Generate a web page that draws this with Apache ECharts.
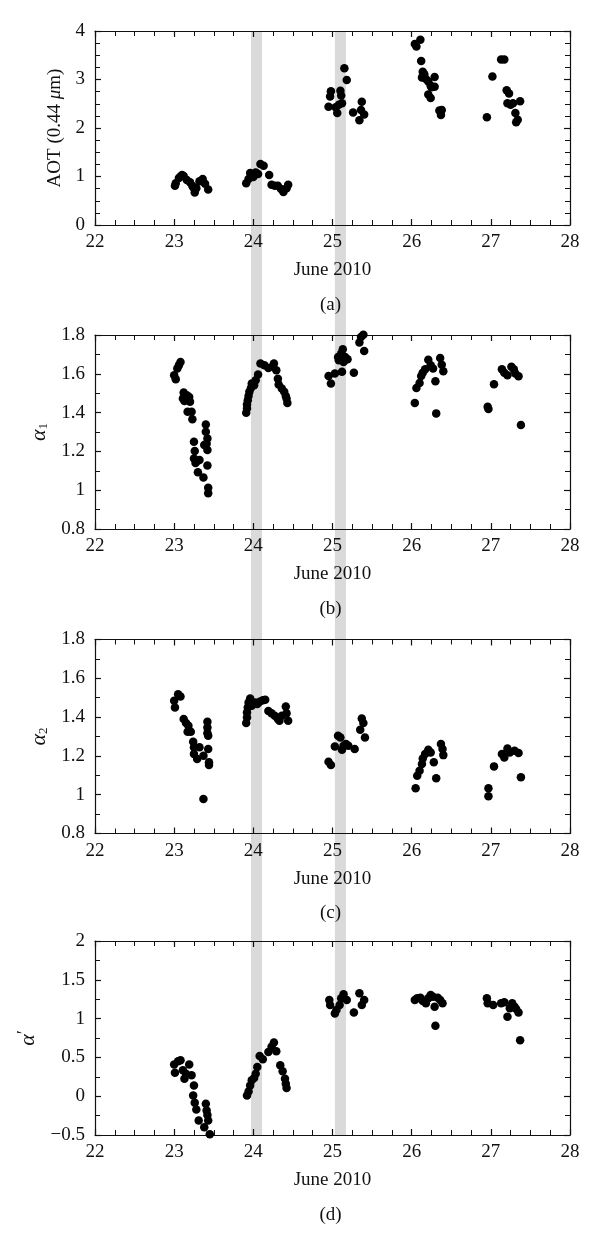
<!DOCTYPE html>
<html><head><meta charset="utf-8">
<script src="https://cdn.jsdelivr.net/npm/echarts@6/dist/echarts.min.js"></script>
<style>html,body{margin:0;padding:0;background:#fff}#c{width:600px;height:1247px}</style>
</head><body><div id="c"></div>
<script>
// ---- Data (day of June 2010, value) ----
const aotDay = [
  23.01,23.02,23.06,23.08,23.10,23.12,23.16,23.20,23.23,23.24,23.26,23.28,23.32,23.36,23.39,23.43,
  23.91,23.94,23.96,24.00,24.03,24.06,24.09,24.13,24.20,24.23,24.27,24.31,24.35,24.38,24.42,24.44,
  24.95,24.97,24.98,25.04,25.06,25.08,25.10,25.11,25.12,25.15,25.18,25.26,25.34,25.36,25.37,25.40,
  26.04,26.06,26.11,26.12,26.13,26.14,26.16,26.18,26.21,26.21,26.24,26.24,26.25,26.29,26.29,26.35,26.37,26.38,
  26.95,27.02,27.13,27.17,27.20,27.21,27.23,27.25,27.28,27.31,27.32,27.34,27.37
];
const aotVal = [
  0.81,0.86,0.97,1.00,1.03,1.01,0.93,0.88,0.81,0.78,0.67,0.76,0.90,0.95,0.85,0.73,
  0.86,0.95,1.07,0.99,1.08,1.05,1.26,1.22,1.03,0.83,0.81,0.81,0.74,0.68,0.76,0.83,
  2.44,2.65,2.76,2.43,2.31,2.48,2.77,2.67,2.51,3.23,2.99,2.32,2.16,2.37,2.54,2.28,
  3.73,3.68,3.82,3.38,3.04,3.16,3.11,3.01,2.96,2.69,2.87,2.62,2.84,3.05,2.85,2.36,2.27,2.37,
  2.22,3.06,3.41,3.41,2.78,2.51,2.71,2.48,2.51,2.31,2.12,2.17,2.55
];
const a1Day = [
  23.00,23.02,23.04,23.06,23.08,23.11,23.12,23.13,23.14,23.16,23.19,23.20,23.17,23.22,23.23,23.25,23.26,23.25,23.27,23.29,23.32,23.30,23.37,23.40,23.40,23.41,23.42,23.38,23.42,23.42,23.43,23.43,
  23.91,23.92,23.92,23.93,23.94,23.95,23.97,23.98,24.01,24.03,24.06,24.09,24.14,24.19,24.24,24.26,24.29,24.31,24.32,24.36,24.39,24.41,24.42,24.43,
  24.95,24.98,25.03,25.07,25.08,25.11,25.13,25.14,25.12,25.16,25.19,25.27,25.34,25.36,25.39,25.40,
  26.04,26.06,26.10,26.12,26.14,26.17,26.21,26.24,26.27,26.30,26.31,26.36,26.38,26.40,
  26.96,26.97,27.04,27.14,27.17,27.21,27.26,27.29,27.31,27.35,27.38
];
const a1Val = [
  1.593,1.572,1.627,1.644,1.661,1.473,1.503,1.460,1.481,1.490,1.481,1.456,1.404,1.404,1.366,1.250,1.202,1.164,1.140,1.151,1.156,1.092,1.065,1.339,1.301,1.240,1.267,1.233,1.207,1.127,1.013,0.984,
  1.399,1.421,1.442,1.464,1.486,1.507,1.527,1.550,1.541,1.567,1.596,1.653,1.644,1.630,1.636,1.653,1.618,1.575,1.545,1.524,1.507,1.486,1.473,1.450,
  1.589,1.550,1.601,1.687,1.670,1.704,1.726,1.661,1.610,1.687,1.675,1.606,1.761,1.790,1.801,1.718,
  1.450,1.527,1.553,1.589,1.606,1.623,1.673,1.644,1.627,1.562,1.396,1.681,1.647,1.613,
  1.430,1.418,1.546,1.623,1.606,1.593,1.636,1.623,1.601,1.587,1.336
];
const a2Day = [
  23.00,23.01,23.05,23.08,23.12,23.15,23.18,23.17,23.21,23.24,23.25,23.25,23.29,23.32,23.37,23.37,23.42,23.42,23.42,23.43,23.43,23.44,23.44,
  23.91,23.92,23.92,23.93,23.94,23.96,23.98,24.02,24.05,24.08,24.12,24.15,24.19,24.23,24.27,24.31,24.33,24.36,24.41,24.42,24.44,
  24.95,24.98,25.03,25.07,25.10,25.12,25.14,25.17,25.20,25.28,25.35,25.37,25.39,25.41,
  26.05,26.07,26.10,26.13,26.14,26.17,26.21,26.24,26.28,26.31,26.37,26.39,26.40,
  26.97,26.97,27.04,27.14,27.17,27.21,27.24,27.30,27.35,27.38
];
const a2Val = [
  1.484,1.450,1.518,1.506,1.390,1.369,1.355,1.324,1.324,1.273,1.244,1.210,1.184,1.244,1.201,0.978,1.376,1.347,1.317,1.304,1.235,1.167,1.153,
  1.369,1.398,1.424,1.450,1.475,1.496,1.458,1.475,1.467,1.479,1.487,1.489,1.432,1.420,1.407,1.390,1.381,1.407,1.455,1.420,1.381,
  1.170,1.153,1.249,1.304,1.295,1.232,1.252,1.261,1.252,1.235,1.335,1.393,1.369,1.295,
  1.033,1.098,1.124,1.158,1.187,1.210,1.232,1.218,1.167,1.085,1.261,1.235,1.204,
  1.033,0.992,1.146,1.210,1.192,1.238,1.218,1.227,1.215,1.090
];
const apDay = [
  23.00,23.01,23.05,23.08,23.11,23.13,23.15,23.19,23.22,23.25,23.24,23.26,23.28,23.31,23.40,23.41,23.42,23.43,23.38,23.45,
  23.92,23.94,23.96,23.98,24.01,24.03,24.05,24.08,24.12,24.19,24.23,24.26,24.29,24.34,24.37,24.40,24.41,24.42,
  24.96,24.97,25.03,25.05,25.09,25.11,25.14,25.18,25.27,25.34,25.37,25.40,
  26.04,26.07,26.11,26.14,26.18,26.21,26.24,26.27,26.29,26.30,26.33,26.36,26.39,
  26.95,26.96,27.03,27.13,27.17,27.21,27.24,27.27,27.30,27.32,27.35,27.37
];
const apVal = [
  0.407,0.303,0.450,0.463,0.333,0.225,0.290,0.407,0.269,0.139,0.010,-0.085,-0.172,-0.314,-0.098,-0.185,-0.241,-0.314,-0.400,-0.490,
  0.010,0.061,0.139,0.204,0.234,0.290,0.377,0.519,0.476,0.571,0.636,0.692,0.579,0.398,0.320,0.225,0.161,0.105,
  1.240,1.175,1.067,1.111,1.175,1.262,1.313,1.240,1.080,1.326,1.175,1.240,
  1.240,1.262,1.270,1.227,1.197,1.262,1.305,1.283,1.154,0.908,1.270,1.240,1.197,
  1.262,1.197,1.175,1.197,1.210,1.024,1.132,1.197,1.154,1.124,1.080,0.722
];
const bandStart = [23.97, 25.03];
const bandEnd   = [24.11, 25.17];
const xTicks = {min: 22, max: 28, interval: 1};
const panelTags = ['(a)', '(b)', '(c)', '(d)'];

// ---- Layout / style ----
const FONT = '"Liberation Serif", "DejaVu Serif", serif';
const INK = '#111111';
const tops = [31, 335, 639.5, 941];
const H = 194;
const LEFT = 95, RIGHT = 30;

const panels = [
  {d: aotDay, v: aotVal, min: 0, max: 4, interval: 1, minor: 4, name: 'AOT (0.44 {i|μ}m)', gap: 30},
  {d: a1Day, v: a1Val, min: 0.8, max: 1.8, interval: 0.2, minor: 2, name: '{a|α}{s|1}', gap: 44},
  {d: a2Day, v: a2Val, min: 0.8, max: 1.8, interval: 0.2, minor: 2, name: '{a|α}{s|2}', gap: 44},
  {d: apDay, v: apVal, min: -0.5, max: 2, interval: 0.5, minor: 2, name: '{a|α}{p|′}', gap: 50}
];

const lineSt = {color: INK, width: 1.2};
const richName = {
  i: {fontStyle: 'italic', fontFamily: FONT, fontSize: 19, color: INK},
  a: {fontStyle: 'italic', fontFamily: FONT, fontSize: 22, color: INK},
  s: {fontFamily: FONT, fontSize: 13, color: INK, padding: [10, 0, 0, 0]},
  p: {fontFamily: FONT, fontSize: 19, color: INK, padding: [0, 0, 8, 0]}
};

const grids = [], xAxes = [], yAxes = [], series = [], graphics = [];
panels.forEach((p, i) => {
  grids.push({left: LEFT, right: RIGHT, top: tops[i], height: H, outerBoundsMode: 'none', containLabel: false});
  const baseX = {
    type: 'value', gridIndex: i, min: xTicks.min, max: xTicks.max, interval: xTicks.interval, z: 3,
    axisLine: {show: true, onZero: false, lineStyle: lineSt},
    axisTick: {show: true, inside: true, length: 6, lineStyle: lineSt},
    minorTick: {show: true, splitNumber: 4, length: 5, lineStyle: {color: INK, width: 1}},
    splitLine: {show: false}
  };
  xAxes.push(Object.assign({}, baseX, {
    position: 'bottom',
    axisLabel: {show: true, margin: 8, fontSize: 19, fontFamily: FONT, color: INK},
    name: 'June 2010', nameLocation: 'middle', nameGap: 36,
    nameTextStyle: {fontSize: 19, fontFamily: FONT, color: INK}
  }));
  xAxes.push(Object.assign({}, baseX, {position: 'top', axisLabel: {show: false}}));
  const baseY = {
    type: 'value', gridIndex: i, min: p.min, max: p.max, interval: p.interval, z: 3,
    axisLine: {show: true, onZero: false, lineStyle: lineSt},
    axisTick: {show: true, inside: true, length: 6, lineStyle: lineSt},
    minorTick: {show: true, splitNumber: p.minor, length: 5, lineStyle: {color: INK, width: 1}},
    splitLine: {show: false}
  };
  yAxes.push(Object.assign({}, baseY, {
    position: 'left',
    axisLabel: {show: true, margin: 10, fontSize: 19, fontFamily: FONT, color: INK,
      formatter: v => String(+v.toFixed(2)).replace('-', '\u2212')},
    name: p.name, nameLocation: 'middle', nameGap: p.gap, nameRotate: 90,
    nameTextStyle: {fontSize: 19, fontFamily: FONT, color: INK, rich: richName}
  }));
  yAxes.push(Object.assign({}, baseY, {position: 'right', axisLabel: {show: false}}));
  series.push({
    type: 'scatter', xAxisIndex: 2 * i, yAxisIndex: 2 * i, z: 4, silent: true, clip: false,
    symbol: 'circle', symbolSize: 8.5, itemStyle: {color: '#000', opacity: 1},
    data: p.d.map((d, k) => [d, p.v[k]])
  });
  graphics.push({
    type: 'text', x: LEFT + (600 - LEFT - RIGHT) / 2 - 2, y: tops[i] + H + 80, z: 10,
    style: {text: panelTags[i], font: '19px ' + FONT, fill: INK, align: 'center', verticalAlign: 'middle'}
  });
});

// full-height grid for the shaded time bands
grids.push({left: LEFT, right: RIGHT, top: tops[0], bottom: 1247 - (tops[3] + H), outerBoundsMode: 'none'});
xAxes.push({type: 'value', gridIndex: 4, min: xTicks.min, max: xTicks.max, show: false});
yAxes.push({type: 'value', gridIndex: 4, min: 0, max: 1, show: false});
series.push({
  type: 'scatter', xAxisIndex: 8, yAxisIndex: 8, z: 1, silent: true, data: [],
  markArea: {silent: true, itemStyle: {color: '#dadada', opacity: 1},
    data: bandStart.map((s, k) => [{xAxis: s}, {xAxis: bandEnd[k]}])}
});

const chart = echarts.init(document.getElementById('c'), null, {renderer: 'canvas'});
chart.setOption({
  animation: false,
  backgroundColor: '#ffffff',
  grid: grids, xAxis: xAxes, yAxis: yAxes, series: series, graphic: graphics
});
</script></body></html>
